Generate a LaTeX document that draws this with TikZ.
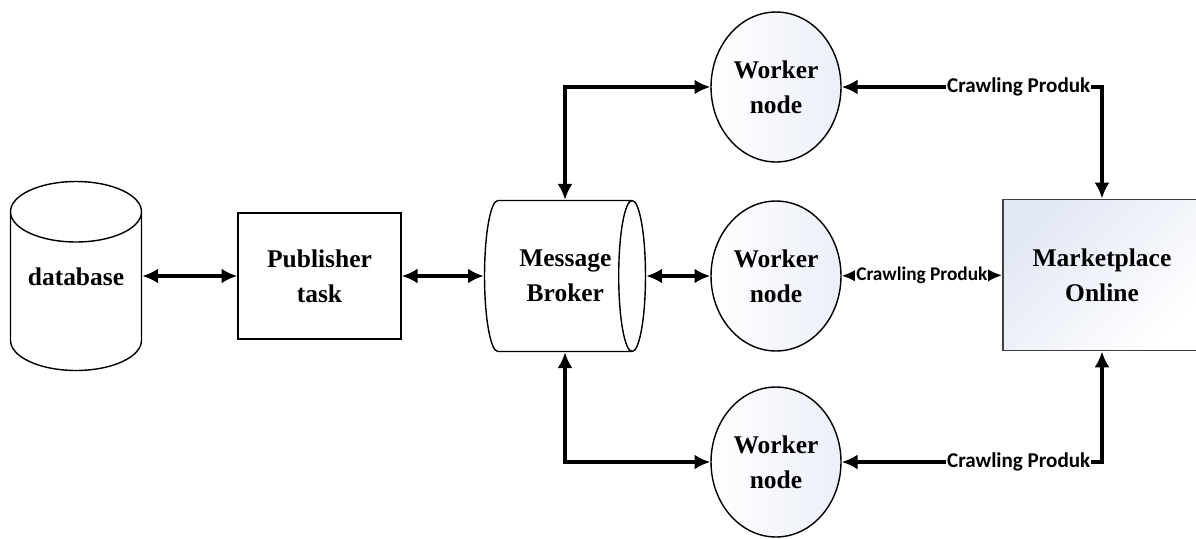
\documentclass[tikz,border=0pt]{standalone}
\usepackage{fontspec}
\setmainfont{Liberation Serif}
\newfontfamily\crawlfont{Carlito}
\usetikzlibrary{shapes.geometric,arrows.meta}
\definecolor{mpblue}{HTML}{E1E7F4}
\definecolor{wkblue}{HTML}{EBEFF8}
\definecolor{mpgray}{HTML}{404040}
\begin{document}
\begin{tikzpicture}[x=0.02cm,y=-0.02cm,
  lbl/.style={font=\fontsize{14.5pt}{20pt}\selectfont\bfseries, align=center},
  worker/.style={lbl, draw, ellipse, line width=0.8pt, left color=white, right color=wkblue, minimum width=2.6cm, minimum height=3cm, inner sep=0pt},
  link/.style={{Latex[length=9pt,width=8.5pt]}-{Latex[length=9pt,width=8.5pt]}, line width=2.2pt},
  crawl/.style={font=\crawlfont\fontsize{12pt}{14pt}\selectfont\bfseries, fill=white, inner sep=0.5pt}]
\useasboundingbox (0,0) rectangle (1196,538);
\node[lbl, draw, cylinder, shape border rotate=90, aspect=0.56, line width=0.8pt, fill=white, minimum width=2.62cm, minimum height=3.78cm, anchor=shape center] (db) at (76,276) {\raisebox{0.41cm}[\height][\depth]{database}};
\node[lbl, draw, line width=0.8pt, minimum width=3.26cm, minimum height=2.52cm] (pub) at (319.5,276) {Publisher\\task};
\node[lbl, draw, cylinder, aspect=0.42, line width=0.8pt, minimum width=3.02cm, minimum height=3.22cm, anchor=shape center] (mb) at (565,276) {\hspace*{0.4cm}Message\\\hspace*{0.4cm}Broker};
\node[worker] (wk1) at (776,87) {Worker\\node};
\node[worker] (wk2) at (776,276) {Worker\\node};
\node[worker] (wk3) at (776,462) {Worker\\node};
\node[lbl, draw=mpgray, line width=1.1pt, top color=mpblue, bottom color=white, shading angle=45, minimum width=3.96cm, minimum height=3.02cm] (mp) at (1102,275) {Marketplace\\Online};
\draw[link] (db.east |- pub.west) -- (pub.west);
\draw[link] (pub) -- (mb);
\draw[link] (mb) -- (wk2);
\draw[link] (mb.north -| mb.shape center) |- (wk1.west);
\draw[link] (mb.south -| mb.shape center) |- (wk3.west);
\draw[link] (mp.north) |- node[crawl, pos=0.66] (c1) {Crawling Produk} (wk1.east);
\draw[link] (wk2) -- node[crawl, font=\crawlfont\fontsize{11pt}{13pt}\selectfont\bfseries] (c2) {Crawling Produk} (mp);
\draw[link] (mp.south) |- node[crawl, pos=0.66] (c3) {Crawling Produk} (wk3.east);
\end{tikzpicture}
\end{document}
